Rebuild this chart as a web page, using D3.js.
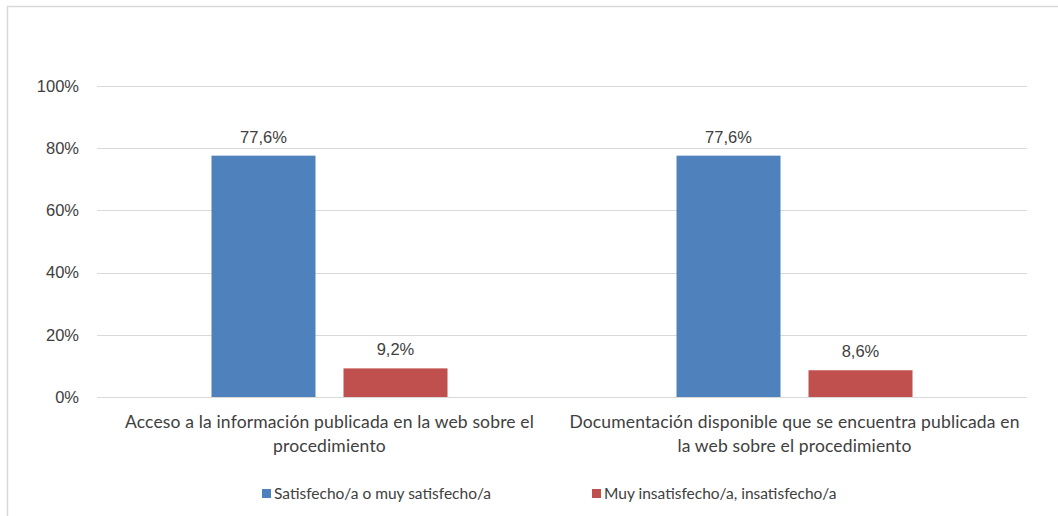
<!DOCTYPE html>
<html><head><meta charset="utf-8">
<script src="https://cdn.jsdelivr.net/npm/d3@7"></script>
<style>body{margin:0;background:#fff}svg{display:block}</style>
</head><body>
<svg id="c" width="1058" height="516"></svg>
<script>
const categories = [
  ["Acceso a la información publicada en la web sobre el", "procedimiento"],
  ["Documentación disponible que se encuentra publicada en", "la web sobre el procedimiento"]
];
const seriesNames = ["Satisfecho/a o muy satisfecho/a", "Muy insatisfecho/a, insatisfecho/a"];
const satisfecho = [77.6, 77.6];
const insatisfecho = [9.2, 8.6];
const yTicks = [0, 20, 40, 60, 80, 100];
const colors = ["#4F81BD", "#C0504D"];

const svg = d3.select("#c");
const labelFont = "Lato, 'Open Sans', sans-serif";
const numFont = "'Liberation Sans', Arial, sans-serif";
const textColor = "#404040";

// outer border
svg.append("rect").attr("x", 7.5).attr("y", 6.5).attr("width", 1060).attr("height", 520)
  .attr("fill", "none").attr("stroke", "#d9d9d9").attr("stroke-width", 1.5);

const x = d3.scaleBand().domain([0, 1]).range([97, 1027]);
const y = d3.scaleLinear().domain([0, 100]).range([397, 86]);
const inner = d3.scaleBand().domain([0, 1]).range([-118, 118]).paddingInner(28 / 132);

// gridlines
svg.append("g").selectAll("line").data(yTicks).join("line")
  .attr("x1", 97).attr("x2", 1027)
  .attr("y1", d => Math.round(y(d)) + 0.5).attr("y2", d => Math.round(y(d)) + 0.5)
  .attr("stroke", "#d9d9d9").attr("stroke-width", 1);

// y axis labels
const yAxis = d3.axisLeft(y).tickValues(yTicks).tickFormat(d => d + "%").tickSize(0).tickPadding(18);
const ga = svg.append("g").attr("transform", "translate(97,0)").call(yAxis);
ga.select(".domain").remove();
ga.selectAll("text").attr("font-family", numFont).attr("font-size", 16.5).attr("fill", textColor);

// bars
const series = [satisfecho, insatisfecho];
series.forEach((vals, si) => {
  const g = svg.append("g");
  g.selectAll("rect").data(vals).join("rect")
    .attr("x", (d, i) => x(i) + x.bandwidth() / 2 + inner(si))
    .attr("width", inner.bandwidth())
    .attr("y", d => y(d))
    .attr("height", d => y(0) - y(d))
    .attr("fill", colors[si]);
  g.selectAll("text").data(vals).join("text")
    .attr("x", (d, i) => x(i) + x.bandwidth() / 2 + inner(si) + inner.bandwidth() / 2)
    .attr("y", d => y(d) - 13)
    .attr("text-anchor", "middle")
    .attr("font-family", numFont).attr("font-size", 16.5).attr("fill", textColor)
    .text(d => d.toFixed(1).replace(".", ",") + "%");
});

// category labels
categories.forEach((lines, i) => {
  const t = svg.append("text").attr("text-anchor", "middle")
    .attr("font-family", labelFont).attr("font-size", 17.5).attr("fill", textColor)
    .attr("letter-spacing", 0.15);
  lines.forEach((ln, k) => {
    t.append("tspan").attr("x", x(i) + x.bandwidth() / 2).attr("y", 428 + k * 24).text(ln);
  });
});

// legend
const legX = [262, 592];
seriesNames.forEach((n, i) => {
  svg.append("rect").attr("x", legX[i]).attr("y", 489).attr("width", 9).attr("height", 9).attr("fill", colors[i]);
  svg.append("text").attr("x", legX[i] + 12).attr("y", 499)
    .attr("font-family", labelFont).attr("font-size", 15.5).attr("fill", textColor).text(n);
});
</script>
</body></html>
